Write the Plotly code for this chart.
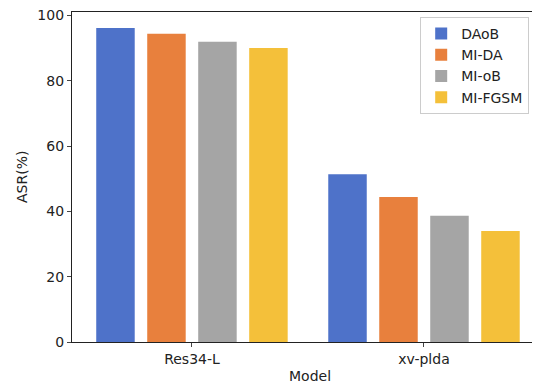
import plotly.graph_objects as go

models = ["Res34-L", "xv-plda"]
methods = ["DAoB", "MI-DA", "MI-oB", "MI-FGSM"]
values = {
    "DAoB": [96.2, 51.4],
    "MI-DA": [94.4, 44.4],
    "MI-oB": [92.0, 38.7],
    "MI-FGSM": [90.1, 34.0],
}
colors = ["#4e72c9", "#e8803d", "#a5a5a5", "#f4c03a"]

fig = go.Figure()
for m, c in zip(methods, colors):
    fig.add_trace(go.Bar(name=m, x=models, y=values[m], marker=dict(color=c, line=dict(width=0))))

font = dict(family="DejaVu Sans", size=14, color="#222")
fig.update_layout(
    width=532, height=375,
    margin=dict(l=64, r=0, t=4, b=41, autoexpand=False),
    plot_bgcolor="white", paper_bgcolor="white",
    barmode="group", bargap=0.121, bargroupgap=0.245,
    font=font,
    showlegend=True,
    legend=dict(x=0.744, y=0.985, xanchor="left", yanchor="top",
                bordercolor="#cccccc", borderwidth=1, bgcolor="white",
                font=font),
    xaxis=dict(range=[-0.517, 1.5], showline=True, linecolor="#222", linewidth=1.2,
               mirror=True, ticks="outside", ticklen=4, tickcolor="#444",
               showgrid=False, automargin=False, ticklabeloverflow="allow"),
    yaxis=dict(range=[0, 101.1], showline=True, linecolor="#222", linewidth=1.2,
               mirror=True, ticks="outside", ticklen=4, tickcolor="#444",
               tickvals=[0, 20, 40, 60, 80, 100], showgrid=False, zeroline=False,
               automargin=False, ticklabeloverflow="allow"),
    annotations=[
        dict(text="Model", x=0.508, y=0, xref="paper", yref="paper",
             xanchor="center", yanchor="middle", yshift=-34, showarrow=False, font=font),
        dict(text="ASR(%)", x=0, y=0.5, xref="paper", yref="paper",
             xanchor="center", yanchor="middle", xshift=-50, textangle=-90,
             showarrow=False, font=font),
    ],
)
fig.write_html("out.html")
